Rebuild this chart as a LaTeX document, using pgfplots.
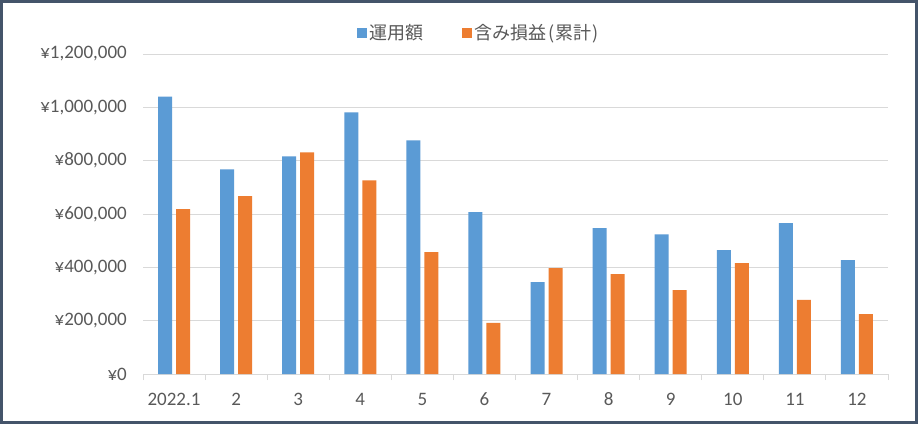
\documentclass[border=0pt]{standalone}
\usepackage{fontspec}
\setmainfont{Carlito}
\newfontfamily\jp{Noto Sans CJK JP}
\usepackage{pgfplots}
\pgfplotsset{compat=1.18}
\definecolor{bblue}{HTML}{5B9BD5}
\definecolor{borange}{HTML}{ED7D31}
\definecolor{gridc}{HTML}{D9D9D9}
\definecolor{txt}{HTML}{595959}
\definecolor{framec}{HTML}{44546A}
\begin{document}
\begin{tikzpicture}
\path[use as bounding box] (0,0) rectangle (918pt,424pt);
\fill[white] (0,0) rectangle (918pt,424pt);
\draw[framec, line width=3pt] (1.5pt,1.5pt) rectangle (916.5pt,422.5pt);
\begin{axis}[
  at={(143pt,50pt)}, anchor=south west, scale only axis,
  width=745pt, height=320pt,
  ybar=4pt, bar width=14pt,
  xmin=-0.5, xmax=11.5, ymin=0, ymax=1200000,
  axis lines*=left,
  y axis line style={draw=none},
  x axis line style={gridc, line width=1pt},
  xtick={0,...,11},
  xticklabels={2022.1,2,3,4,5,6,7,8,9,10,11,12},
  minor xtick={-0.5,0.5,...,11.5},
  major tick length=0pt,
  minor tick length=6pt,
  tick align=outside,
  minor x tick style={gridc, line width=1pt},
  ytick={0,200000,400000,600000,800000,1000000,1200000},
  yticklabels={¥0,{¥200,000},{¥400,000},{¥600,000},{¥800,000},{¥1,000,000},{¥1,200,000}},
  ytick style={draw=none},
  scaled y ticks=false,
  ymajorgrids, grid style={gridc, line width=1pt},
  /pgf/number format/assume math mode=true,
  tick label style={font=\fontsize{19}{21}\selectfont, text=txt},
  yticklabel style={anchor=east, inner sep=0pt, xshift=-16pt},
  xticklabel style={anchor=base, inner sep=0pt, yshift=-31pt},
  legend style={at={(0.451,1)}, anchor=center, yshift=21pt, draw=none, fill=none,
    legend columns=2, font=\jp\fontsize{18}{20}\selectfont, text=txt,
    /tikz/every even column/.append style={column sep=37pt},
    legend cell align=left},
  legend image code/.code={\fill[#1] (0pt,-5pt) rectangle (10pt,5pt);},
]
\addplot[fill=bblue, draw=none] coordinates {
(0,1040000) (1,767000) (2,816000) (3,981000) (4,876000) (5,607000)
(6,345000) (7,547000) (8,524000) (9,465000) (10,566000) (11,427000)};
\addplot[fill=borange, draw=none] coordinates {
(0,618000) (1,667000) (2,831000) (3,726000) (4,457000) (5,192000)
(6,397000) (7,375000) (8,315000) (9,416000) (10,278000) (11,225000)};
\legend{運用額,含み損益\kern2pt(\kern1pt累計\kern1pt)}
\end{axis}
\end{tikzpicture}
\end{document}
